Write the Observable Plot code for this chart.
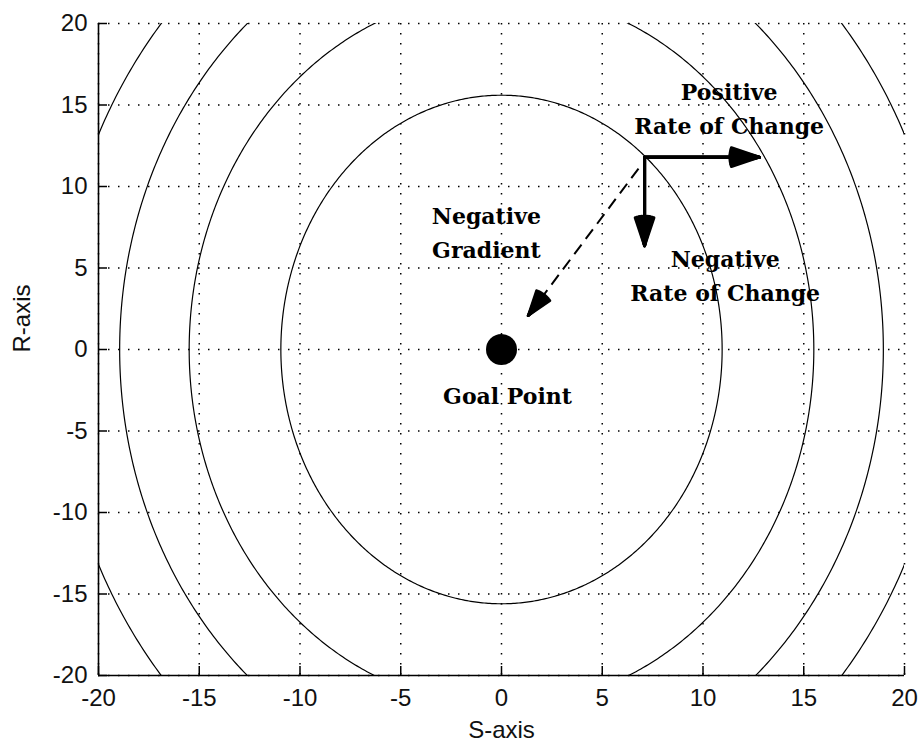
<!DOCTYPE html>
<html><head><meta charset="utf-8">
<script src="https://cdn.jsdelivr.net/npm/d3@7"></script>
<script src="https://cdn.jsdelivr.net/npm/@observablehq/plot@0.6"></script>
<style>html,body{margin:0;padding:0;background:#fff;} #chart svg{display:block;background:#fff}</style>
</head><body><div id="chart"></div>
<script>
// ---- data ----
const xTicks = [-20, -15, -10, -5, 0, 5, 10, 15, 20];
const yTicks = [-20, -15, -10, -5, 0, 5, 10, 15, 20];
// contour ellipses: semi-axis along S and along R
const contourS = [10.95, 15.5, 18.95, 22.1];
const contourR = [15.6, 21.9, 26.8, 31.0];
const goalS = [0];
const goalR = [0];
const labelText = ["Goal Point", "Negative\nGradient", "Positive\nRate of Change", "Negative\nRate of Change"];
const labelS = [0.3, -0.75, 11.3, 11.1];
const labelR = [-2.65, 7.3, 14.95, 4.7];
const solidS1 = [7.1, 7.1];
const solidR1 = [11.8, 11.8];
const solidS2 = [12.8, 7.1];
const solidR2 = [11.8, 6.37];
const dashS1 = [6.8];
const dashR1 = [11.1];
const dashS2 = [1.32];
const dashR2 = [2.07];

// ---- tables for the marks ----
const ellipsePts = [];
contourS.forEach((a, k) => {
  const b = contourR[k];
  for (let t = 0; t <= 720; t++) {
    const th = t / 720 * 2 * Math.PI;
    ellipsePts.push({k, s: a * Math.cos(th), r: b * Math.sin(th)});
  }
});
const goal = goalS.map((s, i) => ({s, r: goalR[i]}));
const labels = labelText.map((t, i) => ({t, s: labelS[i], r: labelR[i]}));
const solid = solidS1.map((s, i) => ({x1: s, y1: solidR1[i], x2: solidS2[i], y2: solidR2[i]}));
const dashed = dashS1.map((s, i) => ({x1: s, y1: dashR1[i], x2: dashS2[i], y2: dashR2[i]}));
const dashHead = dashed.map(d => ({x1: d.x2 + 0.45 * (d.x1 - d.x2), y1: d.y2 + 0.45 * (d.y1 - d.y2), x2: d.x2, y2: d.y2}));

const fanAngles = [37, 31, 25, 19, 13, 7, 1];
const sansFont = "Liberation Sans, Arial, sans-serif";
const serifFont = "DejaVu Serif, serif";

const marks = [
  Plot.gridX(xTicks, {stroke: "#000", strokeOpacity: 1, strokeWidth: 1.5, strokeDasharray: "1.5 8.5"}),
  Plot.gridY(yTicks, {stroke: "#000", strokeOpacity: 1, strokeWidth: 1.5, strokeDasharray: "1.5 8.5"}),
  Plot.line(ellipsePts, {x: "s", y: "r", z: "k", stroke: "#000", strokeWidth: 1.2, clip: true}),
  Plot.ruleX([-20], {stroke: "#000", strokeWidth: 1.6}),
  Plot.ruleY([-20], {stroke: "#000", strokeWidth: 1.6}),
  Plot.axisX(xTicks, {tickSize: -9, tickPadding: 22, tickFormat: d => String(d), fontSize: 24, fontFamily: sansFont, fill: "#111", stroke: "#000", strokeWidth: 1.5, label: null}),
  Plot.axisY(yTicks, {tickSize: -9, tickPadding: 20, tickFormat: d => String(d), fontSize: 24, fontFamily: sansFont, fill: "#111", stroke: "#000", strokeWidth: 1.5, label: null}),
  Plot.text(["S-axis"], {frameAnchor: "bottom", lineAnchor: "middle", dy: 55, text: d => d, fontSize: 24, fontFamily: sansFont, fill: "#111"}),
  Plot.text(["R-axis"], {frameAnchor: "left", lineAnchor: "middle", dx: -76, dy: 3, rotate: -90, text: d => d, fontSize: 24, fontFamily: sansFont, fill: "#111"}),
  Plot.dot(goal, {x: "s", y: "r", r: 15.5, fill: "#000", stroke: null}),
  Plot.link(dashed, {x1: "x1", y1: "y1", x2: "x2", y2: "y2", stroke: "#000", strokeWidth: 2, strokeDasharray: "12 7"}),
  ...fanAngles.map(a => Plot.arrow(solid, {x1: "x1", y1: "y1", x2: "x2", y2: "y2", stroke: "#000", strokeWidth: 3, headAngle: a, headLength: 14.8})),
  ...fanAngles.map(a => Plot.arrow(dashHead, {x1: "x1", y1: "y1", x2: "x2", y2: "y2", stroke: "#000", strokeWidth: 2.5, headAngle: a, headLength: 16, insetStart: 58})),
  Plot.text(labels, {x: "s", y: "r", text: "t", fontFamily: serifFont, fontWeight: "bold", fontSize: 22, lineHeight: 1.55, fill: "#000"})
];

const chart = Plot.plot({
  width: 919, height: 745,
  marginLeft: 98, marginRight: 15, marginTop: 23, marginBottom: 70,
  x: {domain: [-20, 20]},
  y: {domain: [-20, 20]},
  style: {background: "#fff", color: "#000"},
  marks
});
document.getElementById("chart").appendChild(chart);
</script>
</body></html>
